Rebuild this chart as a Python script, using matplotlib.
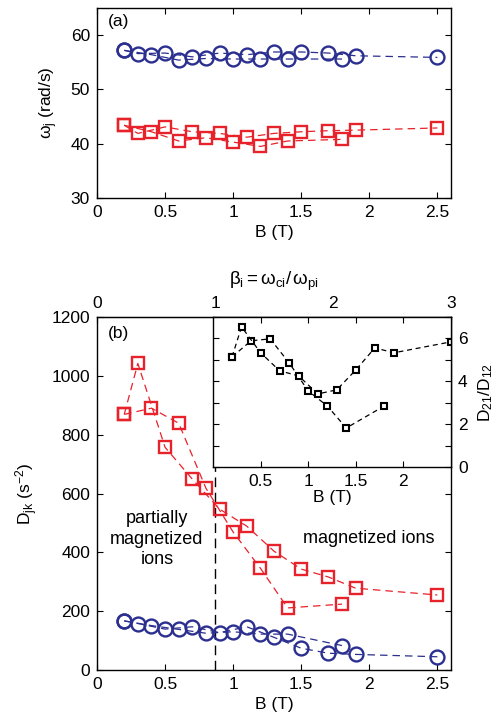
import matplotlib
matplotlib.use("Agg")
import matplotlib.pyplot as plt

plt.rcParams['font.family'] = ['Liberation Sans', 'DejaVu Sans']
plt.rcParams['font.size'] = 12.5
plt.rcParams['mathtext.fontset'] = 'custom'
plt.rcParams['mathtext.rm'] = 'Liberation Sans'
plt.rcParams['mathtext.it'] = 'Liberation Sans'

# ---- data ----
B_even = [0.2, 0.4, 0.6, 0.8, 1.0, 1.2, 1.4, 1.8]
B_odd = [0.2, 0.3, 0.5, 0.7, 0.9, 1.1, 1.3, 1.5, 1.7, 1.9, 2.5]

# panel (a): frequencies omega_j (rad/s)
w_blue_even = [57.2, 56.4, 55.4, 55.7, 55.6, 55.6, 55.6, 55.6]
w_blue_odd = [57.2, 56.6, 56.7, 56.0, 56.7, 56.4, 56.9, 56.9, 56.7, 56.2, 55.9]
w_red_even = [43.4, 42.2, 40.5, 41.1, 40.3, 39.5, 40.5, 40.8]
w_red_odd = [43.4, 41.9, 43.1, 42.2, 41.9, 41.2, 41.9, 42.2, 42.4, 42.5, 42.9]

# panel (b): coupling D_jk (s^-2)
D_red_even = [869, 890, 839, 618, 469, 346, 211, 224]
D_red_odd = [869, 1042, 757, 649, 547, 489, 404, 343, 316, 278, 255]
D_blue_even = [167, 151, 138, 125, 130, 122, 122, 83]
D_blue_odd = [167, 158, 139, 147, 127, 147, 111, 74, 57, 53, 45]

# inset: ratio D21/D12
R_even = [5.14, 5.89, 5.98, 4.86, 3.55, 2.85, 1.82, 2.85]
R_odd = [5.14, 6.54, 5.33, 4.49, 4.25, 3.41, 3.60, 4.53, 5.56, 5.33, 5.84]

B_crit = 0.867

blue = '#2b2f8f'
red = '#e8222a'

fig = plt.figure(figsize=(5.0, 7.21), dpi=100)
W, H = 500.0, 721.0

def rect(l, t, r, b):
    return [l / W, 1 - b / H, (r - l) / W, (b - t) / H]

ax_a = fig.add_axes(rect(97, 8, 451, 198))
ax_b = fig.add_axes(rect(97, 317, 451, 670))
ax_i = fig.add_axes(rect(213, 317, 451, 467))

dash = (6, 4)
mk = dict(mfc='none', mew=1.7)

def style(ax):
    ax.tick_params(direction='in', length=4, width=0.8, top=True, right=True, pad=5)
    for s in ax.spines.values():
        s.set_linewidth(1.0)

# ---- panel (a) ----
for x, y in [(B_even, w_blue_even), (B_odd, w_blue_odd)]:
    ax_a.plot(x, y, color=blue, lw=0.9, dashes=dash, marker='o', ms=10, mec=blue, **mk)
for x, y in [(B_even, w_red_even), (B_odd, w_red_odd)]:
    ax_a.plot(x, y, color=red, lw=0.9, dashes=dash, marker='s', ms=8.5, mec=red, **mk)
ax_a.set_xlim(0, 2.6)
ax_a.set_ylim(30, 65)
ax_a.set_xticks([0, 0.5, 1, 1.5, 2, 2.5])
ax_a.set_xticklabels(['0', '0.5', '1', '1.5', '2', '2.5'])
ax_a.set_yticks([30, 40, 50, 60])
style(ax_a)
ax_a.set_xlabel('B (T)', labelpad=4)
ax_a.set_ylabel(r'$\omega_{\mathrm{j}}$ (rad/s)', labelpad=8)
ax_a.text(0.03, 0.97, '(a)', transform=ax_a.transAxes, ha='left', va='top')

# ---- panel (b) ----
ax_b.axvline(B_crit, color='black', lw=1.0, dashes=(7, 4), zorder=1)
for x, y in [(B_even, D_red_even), (B_odd, D_red_odd)]:
    ax_b.plot(x, y, color=red, lw=0.9, dashes=dash, marker='s', ms=8.5, mec=red, **mk)
for x, y in [(B_even, D_blue_even), (B_odd, D_blue_odd)]:
    ax_b.plot(x, y, color=blue, lw=0.9, dashes=dash, marker='o', ms=10, mec=blue, **mk)
ax_b.set_xlim(0, 2.6)
ax_b.set_ylim(0, 1200)
ax_b.set_xticks([0, 0.5, 1, 1.5, 2, 2.5])
ax_b.set_xticklabels(['0', '0.5', '1', '1.5', '2', '2.5'])
ax_b.set_yticks([0, 200, 400, 600, 800, 1000, 1200])
ax_b.tick_params(direction='in', length=4, width=0.8, right=True, top=False, pad=5)
for s in ax_b.spines.values():
    s.set_linewidth(1.0)
ax_b.set_xlabel('B (T)', labelpad=4)
ax_b.set_ylabel(r'D$_{\mathrm{jk}}$ (s$^{-2}$)', labelpad=8)
ax_b.text(0.03, 0.975, '(b)', transform=ax_b.transAxes, ha='left', va='top')
ax_b.text(0.44, 445, 'partially\nmagnetized\nions', ha='center', va='center',
          linespacing=1.25, fontsize=13)
ax_b.text(1.995, 447, 'magnetized ions', ha='center', va='center', fontsize=13)

sec = ax_b.secondary_xaxis('top', functions=(lambda b: b * 3 / 2.6, lambda x: x * 2.6 / 3))
sec.set_xticks([0, 1, 2, 3])
sec.set_xticklabels(['0', '1', '2', '3'])
sec.tick_params(direction='in', length=4, width=0.8, pad=4)
sec.set_xlabel(r'$\beta_{\mathrm{i}}=\omega_{\mathrm{ci}}/\,\omega_{\mathrm{pi}}$', labelpad=8,
               fontsize=13.5)

# ---- inset ----
ax_i.set_facecolor('white')
for x, y in [(B_even, R_even), (B_odd, R_odd)]:
    ax_i.plot(x, y, color='black', lw=0.9, dashes=(4, 3), marker='s', ms=5,
              mec='black', mfc='white', mew=1.5)
ax_i.set_xlim(0, 2.5)
ax_i.set_ylim(0, 7)
ax_i.set_xticks([0.5, 1, 1.5, 2])
ax_i.set_xticklabels(['0.5', '1', '1.5', '2'])
ax_i.set_yticks(range(0, 8))
ax_i.set_yticklabels(['0', '', '2', '', '4', '', '6', ''])
ax_i.yaxis.tick_right()
ax_i.yaxis.set_label_position('right')
ax_i.tick_params(direction='in', length=4, width=0.8, top=True, left=True, right=True, pad=5)
for s in ax_i.spines.values():
    s.set_linewidth(1.0)
ax_i.set_xlabel('B (T)', labelpad=1)
ax_i.set_ylabel(r'D$_{21}$/D$_{12}$', labelpad=6)

fig.savefig('out.png', dpi=100)
